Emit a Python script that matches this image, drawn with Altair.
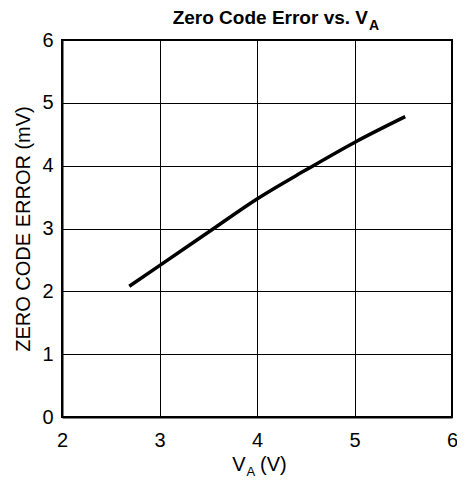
import altair as alt
import pandas as pd

# Data
va = [2.69, 3.0, 3.5, 4.0, 4.5, 5.0, 5.52]
zce = [2.08, 2.41, 2.94, 3.47, 3.93, 4.37, 4.78]

x_ticks = [2, 3, 4, 5, 6]
y_ticks = [0, 1, 2, 3, 4, 5, 6]

title_main = "Zero Code Error vs. V"
title_sub = "A"
xtitle_main = "V"
xtitle_sub = "A"
xtitle_tail = "(V)"
ytitle = "ZERO CODE ERROR (mV)"

FONT = "Liberation Sans"
W, H = 390, 377

df = pd.DataFrame({"va": va, "zce": zce})

line = alt.Chart(df).mark_line(color="black", strokeWidth=3.5, interpolate="monotone").encode(
    x=alt.X("va:Q", scale=alt.Scale(domain=[2, 6], nice=False),
            axis=alt.Axis(values=x_ticks, title=None, grid=True, gridColor="black",
                          gridWidth=1, gridOpacity=1, tickSize=0, labelPadding=13,
                          labelFontSize=20, labelFont=FONT, labelColor="black",
                          domainColor="black", domainWidth=2, labelFlush=False,
                          format="d")),
    y=alt.Y("zce:Q", scale=alt.Scale(domain=[0, 6], nice=False),
            axis=alt.Axis(values=y_ticks, title=ytitle, grid=True, gridColor="black",
                          gridWidth=1, gridOpacity=1, tickSize=0, labelPadding=9,
                          labelFontSize=20, labelFont=FONT, labelColor="black",
                          domainColor="black", domainWidth=2, labelFlush=False,
                          titleFontSize=20, titleFont=FONT, titleFontWeight="normal",
                          titleColor="black", titlePadding=8, format="d")),
)

def txt(s, x, y, size, weight="normal", align="left"):
    return alt.Chart(pd.DataFrame({"t": [s]})).mark_text(
        font=FONT, fontSize=size, fontWeight=weight, align=align,
        baseline="alphabetic", color="black"
    ).encode(text="t:N", x=alt.value(x), y=alt.value(y))

t1 = txt(title_main, 306, -16, 19, "bold", "right")
t2 = txt(title_sub, 307, -10.5, 14, "bold", "left")
x1 = txt(xtitle_main, 183.5, 431, 20, "normal", "right")
x2 = txt(xtitle_sub, 184.5, 435.5, 13, "normal", "left")
x3 = txt(xtitle_tail, 198, 431, 20, "normal", "left")

chart = alt.layer(line, t1, t2, x1, x2, x3).properties(
    width=W, height=H,
    autosize=alt.AutoSizeParams(type="none"),
    padding={"left": 54, "top": 32, "right": 5, "bottom": 62},
    background="white",
).configure_view(stroke="black", strokeWidth=2)

chart.save("out.html", embed_options={"renderer": "svg", "actions": False})
